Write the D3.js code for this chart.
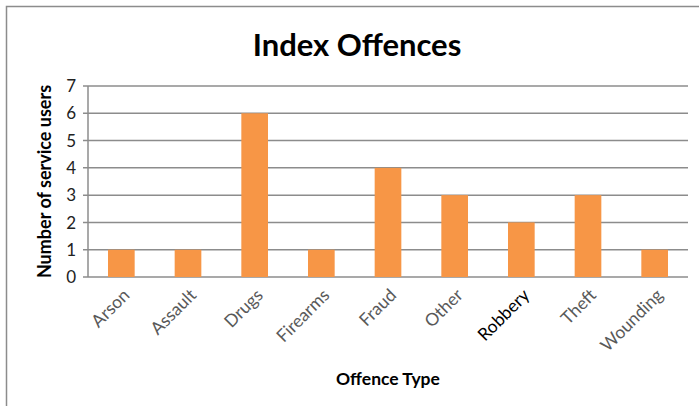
<!DOCTYPE html>
<html>
<head>
<meta charset="utf-8">
<script src="https://cdn.jsdelivr.net/npm/d3@7"></script>
<style>
  body { margin: 0; background: #fff; }
  text { font-family: Lato, "Open Sans", sans-serif; }
</style>
</head>
<body>
<div id="chart"></div>
<script>
var categories = ["Arson", "Assault", "Drugs", "Firearms", "Fraud", "Other", "Robbery", "Theft", "Wounding"];
var values = [1, 1, 6, 1, 4, 3, 2, 3, 1];
var yTicks = [0, 1, 2, 3, 4, 5, 6, 7];

var width = 699, height = 406;
var margin = {top: 86, right: 11, bottom: 129, left: 88};

var svg = d3.select("#chart").append("svg")
  .attr("width", width)
  .attr("height", height);

// outer frame
svg.append("rect")
  .attr("x", 6.5).attr("y", 6.5)
  .attr("width", width + 10).attr("height", height + 10)
  .attr("fill", "none")
  .attr("stroke", "#8c8c8c")
  .attr("stroke-width", 1.5);

var x = d3.scaleBand()
  .domain(categories)
  .range([margin.left, width - margin.right])
  .paddingInner(0.6)
  .paddingOuter(0.3);

var y = d3.scaleLinear()
  .domain([0, 7])
  .range([height - margin.bottom, margin.top]);

// gridlines
svg.append("g")
  .selectAll("line")
  .data(yTicks)
  .enter()
  .append("line")
  .attr("x1", margin.left - 5)
  .attr("x2", width - margin.right)
  .attr("y1", function(d){ return y(d); })
  .attr("y2", function(d){ return y(d); })
  .attr("stroke", "#8c8c8c")
  .attr("stroke-width", 1.5);

// y axis line
svg.append("line")
  .attr("x1", margin.left).attr("x2", margin.left)
  .attr("y1", y(7)).attr("y2", y(0))
  .attr("stroke", "#8c8c8c")
  .attr("stroke-width", 1.5);

// y tick labels
svg.append("g")
  .selectAll("text")
  .data(yTicks)
  .enter()
  .append("text")
  .attr("x", 76)
  .attr("y", function(d){ return y(d); })
  .attr("dy", "0.36em")
  .attr("text-anchor", "end")
  .attr("fill", "#222")
  .attr("font-size", 17)
  .text(function(d){ return d; });

// bars
svg.append("g")
  .selectAll("rect")
  .data(values)
  .enter()
  .append("rect")
  .attr("x", function(d, i){ return x(categories[i]); })
  .attr("width", x.bandwidth())
  .attr("y", function(d){ return y(d); })
  .attr("height", function(d){ return y(0) - y(d); })
  .attr("fill", "#f79646");

// x category labels
svg.append("g")
  .selectAll("text")
  .data(categories)
  .enter()
  .append("text")
  .attr("transform", function(d){
    var cx = x(d) + x.bandwidth() / 2 + 5;
    return "translate(" + cx + "," + (y(0) + 15) + ") rotate(-45)";
  })
  .attr("text-anchor", "end")
  .attr("dy", "0.35em")
  .attr("font-size", 17.5)
  .attr("fill", function(d){ return d === "Robbery" ? "#000" : "#595959"; })
  .text(function(d){ return d; });

// title
svg.append("text")
  .attr("x", 357)
  .attr("y", 56)
  .attr("text-anchor", "middle")
  .attr("font-size", 31)
  .attr("font-weight", "bold")
  .attr("fill", "#000")
  .text("Index Offences");

// x axis title
svg.append("text")
  .attr("x", 388)
  .attr("y", 385)
  .attr("text-anchor", "middle")
  .attr("font-size", 17.5)
  .attr("font-weight", "bold")
  .text("Offence Type");

// y axis title
svg.append("text")
  .attr("transform", "translate(51," + ((y(0) + y(7)) / 2) + ") rotate(-90)")
  .attr("text-anchor", "middle")
  .attr("font-size", 18)
  .attr("font-weight", "bold")
  .text("Number of service users");
</script>
</body>
</html>
